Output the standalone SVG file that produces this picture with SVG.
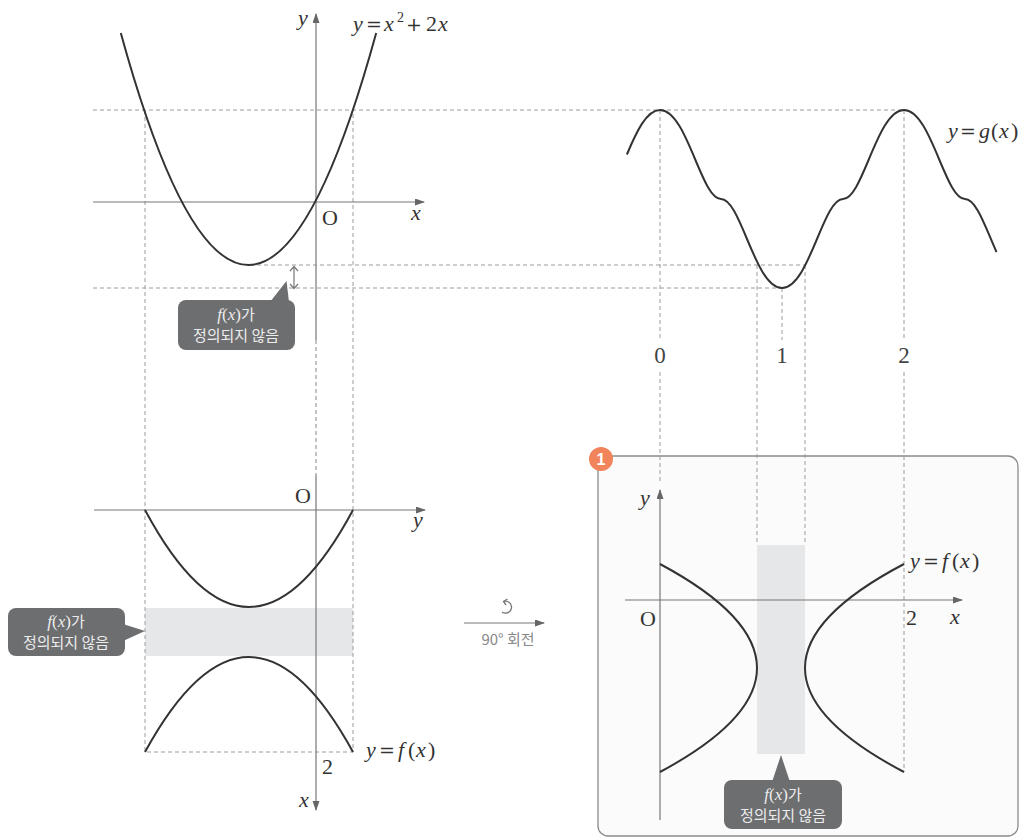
<svg xmlns="http://www.w3.org/2000/svg" width="1027" height="840" viewBox="0 0 1027 840">
<style>
.ax{stroke:#8a8a8a;stroke-width:1.4;fill:none}
.axh{stroke:#777;stroke-width:1.2;fill:none}
.cv{stroke:#333;stroke-width:2;fill:none}
.ds{stroke:#9c9c9c;stroke-width:1;stroke-dasharray:4 3;fill:none}
.m{font-family:"Liberation Serif","DejaVu Serif",serif;font-size:22px;fill:#333}
.i{font-style:italic}
.op{font-family:"DejaVu Serif",serif;font-size:19px}
.num{font-family:"Liberation Serif","DejaVu Serif",serif;font-size:23px;fill:#444;text-anchor:middle}
.co{fill:#6d6e70}
.ct{font-family:"Noto Sans CJK KR","Noto Sans",sans-serif;font-size:15px;fill:#ececec;text-anchor:middle}
.cf{font-family:"Liberation Serif",serif;font-size:17px}
.band{fill:#e6e7e8}
</style>
<defs>
<marker id="ar" markerUnits="userSpaceOnUse" markerWidth="10" markerHeight="8" refX="9" refY="3.5" orient="auto">
<path d="M0,0 L10,3.5 L0,7 z" fill="#666"/>
</marker>
</defs>

<g id="box1">
<rect x="598" y="456" width="420" height="380" rx="10" fill="#fbfbfb" stroke="#8a8a8a" stroke-width="1.3"/>
<circle cx="601" cy="459" r="12" fill="#f1845a"/>
<text x="601" y="465" font-family="Liberation Sans,Arial,sans-serif" font-size="16" font-weight="bold" fill="#fff" text-anchor="middle">1</text>
</g>

<g id="bands">
<rect class="band" x="145" y="608" width="208" height="48"/>
<rect class="band" x="757" y="545" width="48" height="209"/>
</g>

<g id="connectors">
<path class="ds" d="M93,110 H904"/>
<path class="ds" d="M250,265 H805"/>
<path class="ds" d="M93,288 H782"/>
<path class="ds" d="M145,110 V752 H353 V110"/>
<path class="ds" d="M660,110 V340 M660,372 V483"/>
<path class="ds" d="M904,110 V340 M904,372 V772"/>
<path class="ds" d="M782,288 V340"/>
<path class="ds" d="M757,265 V545"/>
<path class="ds" d="M805,265 V545"/>
<path d="M316,340 V475" stroke="#aaa" stroke-width="1.4" stroke-dasharray="4 3" fill="none"/>
<path d="M294,267 V288 M290,271 L294,266.5 L298,271 M290,284 L294,288.5 L298,284" stroke="#777" stroke-width="1.2" fill="none"/>
<path class="axh" d="M464,623 H544" marker-end="url(#ar)"/>
<path d="M503.5,601.5 A6,6 0 1 1 502,612" stroke="#777" stroke-width="1.3" fill="none"/>
<path d="M507.5,599 L503.5,601.5 L506,605" stroke="#777" stroke-width="1.3" fill="none"/>
</g>

<g id="graph-top-left">
<path class="ax" d="M316,340 V14" marker-end="url(#ar)"/>
<path class="axh" d="M93,202 H424" marker-end="url(#ar)"/>
<path class="cv" d="M120.8,33 Q248.5,497 376.2,33"/>
<text class="m i" x="298" y="25">y</text>
<text class="m" x="322" y="225" font-size="20">O</text>
<text class="m i" x="411" y="220">x</text>
<text class="m" y="31"><tspan x="353" class="i">y</tspan><tspan x="366" class="op">=</tspan><tspan x="384" class="i">x</tspan><tspan x="397" y="22" font-size="14">2</tspan><tspan x="406" y="31" class="op">+</tspan><tspan x="426">2</tspan><tspan x="438" class="i">x</tspan></text>
</g>

<g id="graph-top-right">
<path class="cv" d="M626.9,154.5 C636.25,132.25 646.5,110 660,110 C687,110 701,199 721,199 C741,199 755,288 782,288 C809,288 823,199 843,199 C863,199 877,110 904,110 C931,110 945,199 965,199 C976.3,199 985.5,227.4 996.5,252"/>
<text class="m" y="138"><tspan x="948" class="i">y</tspan><tspan x="960" class="op">=</tspan><tspan x="979" class="i">g</tspan><tspan x="991">(</tspan><tspan x="999" class="i">x</tspan><tspan x="1011">)</tspan></text>
<text class="num" x="660" y="363">0</text>
<text class="num" x="782" y="363">1</text>
<text class="num" x="904" y="363">2</text>
</g>

<g id="graph-bottom-left">
<path class="ax" d="M316,475 V810" marker-end="url(#ar)"/>
<path class="axh" d="M94,510 H425" marker-end="url(#ar)"/>
<path class="cv" d="M145,510 Q249,704 353,510"/>
<path class="cv" d="M145,752 Q249,562 353,752"/>
<text class="m" x="295" y="503" font-size="20">O</text>
<text class="m i" x="413" y="527">y</text>
<text class="m i" x="299" y="807">x</text>
<text class="m" x="322" y="774">2</text>
<text class="m" y="757"><tspan x="366" class="i">y</tspan><tspan x="379" class="op">=</tspan><tspan x="398" class="i">f</tspan><tspan x="408">(</tspan><tspan x="416" class="i">x</tspan><tspan x="428">)</tspan></text>
</g>

<g id="graph-box">
<path class="ax" d="M660,820 V490" marker-end="url(#ar)"/>
<path class="axh" d="M625,600 H962" marker-end="url(#ar)"/>
<path class="cv" d="M660,564 Q854,668 660,772"/>
<path class="cv" d="M904,564 Q706,668 904,772"/>
<text class="m i" x="640" y="505">y</text>
<text class="m" x="640" y="626" font-size="20">O</text>
<text class="m" x="906" y="625">2</text>
<text class="m i" x="950" y="624">x</text>
<text class="m" y="568"><tspan x="910" class="i">y</tspan><tspan x="923" class="op">=</tspan><tspan x="942" class="i">f</tspan><tspan x="952">(</tspan><tspan x="960" class="i">x</tspan><tspan x="972">)</tspan></text>
</g>

<g id="rotate-label">
<text x="508" y="645" font-family="Noto Sans CJK KR,Noto Sans,sans-serif" font-size="15" fill="#888" text-anchor="middle">90° 회전</text>
</g>

<g id="callout1">
<rect class="co" x="178" y="300" width="117" height="50" rx="8"/>
<polygon class="co" points="270,302 286.5,281 289,302"/>
<text class="ct" x="236" y="320"><tspan class="cf i">f</tspan><tspan class="cf">(</tspan><tspan class="cf i">x</tspan><tspan class="cf">)</tspan><tspan>가</tspan></text>
<text class="ct" x="236" y="341">정의되지 않음</text>
</g>
<g id="callout2">
<rect class="co" x="8" y="608" width="117" height="48" rx="8"/>
<polygon class="co" points="123,624 145,631 123,641"/>
<text class="ct" x="66" y="627"><tspan class="cf i">f</tspan><tspan class="cf">(</tspan><tspan class="cf i">x</tspan><tspan class="cf">)</tspan><tspan>가</tspan></text>
<text class="ct" x="66" y="648">정의되지 않음</text>
</g>
<g id="callout3">
<rect class="co" x="724" y="780" width="118" height="49" rx="8"/>
<polygon class="co" points="772,782 781,755 790,782"/>
<text class="ct" x="783" y="800"><tspan class="cf i">f</tspan><tspan class="cf">(</tspan><tspan class="cf i">x</tspan><tspan class="cf">)</tspan><tspan>가</tspan></text>
<text class="ct" x="783" y="821">정의되지 않음</text>
</g>
</svg>
